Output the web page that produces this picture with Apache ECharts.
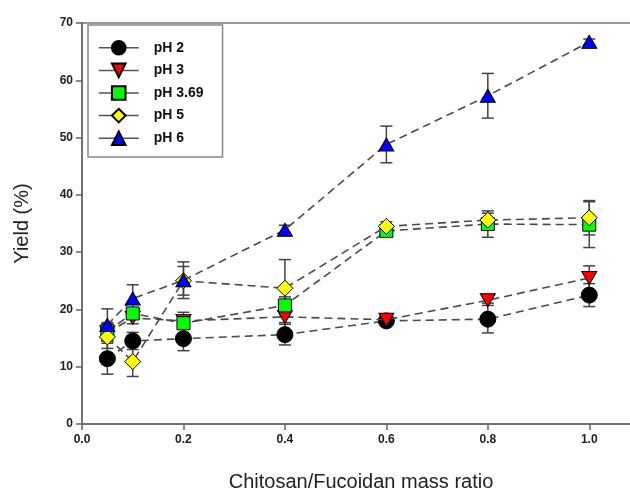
<!DOCTYPE html>
<html>
<head>
<meta charset="utf-8">
<script src="https://cdn.jsdelivr.net/npm/echarts@6/dist/echarts.min.js"></script>
<style>
html,body{margin:0;padding:0;background:#fff;}
#chart{width:630px;height:493px;}
</style>
</head>
<body>
<div id="chart"></div>
<script>
// Data
const ratios = [0.05, 0.1, 0.2, 0.4, 0.6, 0.8, 1.0];
const seriesNames = ['pH 2', 'pH 3', 'pH 3.69', 'pH 5', 'pH 6'];
const pH2 = [11.4, 14.5, 14.9, 15.6, 18.0, 18.3, 22.5];
const pH3 = [16.0, 18.5, 18.0, 18.7, 18.2, 21.6, 25.5];
const pH369 = [16.2, 19.3, 17.6, 20.7, 33.7, 34.9, 34.8];
const pH5 = [15.2, 10.9, 25.0, 23.7, 34.5, 35.6, 36.0];
const pH6 = [17.3, 21.9, 25.1, 33.9, 48.8, 57.3, 66.7];
const err2 = [2.7, 1.5, 2.1, 1.8, 0.5, 2.4, 2.0];
const err3 = [1.5, 1.0, 1.5, 1.0, 0.5, 0.5, 2.1];
const err369 = [1.5, 1.0, 1.0, 1.5, 0.8, 2.3, 4.0];
const err5 = [2.0, 2.6, 2.5, 5.0, 0.8, 1.2, 3.0];
const err6 = [2.8, 2.4, 3.2, 0.8, 3.2, 3.9, 0.5];
const yTicks = [0, 10, 20, 30, 40, 50, 60, 70];
const xTicks = [0.0, 0.2, 0.4, 0.6, 0.8, 1.0];

const allVals = [pH2, pH3, pH369, pH5, pH6];
const allErr = [err2, err3, err369, err5, err6];
const colors = ['#000000', '#ff0000', '#00ff00', '#ffff00', '#0000ff'];
const symbols = ['circle', 'path://M0,0 L10,0 L5,8.6 Z', 'rect', 'diamond', 'triangle'];
const sizes = [16, [15, 13], 13, 16, [15, 13]];

const errData = [];
allVals.forEach((vals, s) => {
  vals.forEach((v, i) => errData.push([ratios[i], v, allErr[s][i]]));
});

const chart = echarts.init(document.getElementById('chart'), null, {renderer: 'canvas'});
const font = 'Liberation Sans, Arial, sans-serif';

const series = allVals.map((vals, s) => ({
  name: seriesNames[s],
  type: 'line',
  data: vals.map((v, i) => [ratios[i], v]),
  symbol: symbols[s],
  symbolSize: sizes[s],
  showAllSymbol: true,
  z: 3 + s,
  lineStyle: {color: '#4a4a4a', width: 1.6, type: [8, 5]},
  itemStyle: {color: colors[s], borderColor: '#000', borderWidth: 1, opacity: 1},
  emphasis: {disabled: true},
  animation: false
}));

series.unshift({
  name: 'err',
  type: 'custom',
  z: 2,
  data: errData,
  renderItem: function (params, api) {
    const x = api.value(0), y = api.value(1), e = api.value(2);
    const top = api.coord([x, y + e]);
    const bot = api.coord([x, y - e]);
    const hw = 6;
    const style = {stroke: '#444', lineWidth: 1.5};
    return {
      type: 'group',
      children: [
        {type: 'line', shape: {x1: top[0], y1: top[1], x2: bot[0], y2: bot[1]}, style: style},
        {type: 'line', shape: {x1: top[0] - hw, y1: top[1], x2: top[0] + hw, y2: top[1]}, style: style},
        {type: 'line', shape: {x1: bot[0] - hw, y1: bot[1], x2: bot[0] + hw, y2: bot[1]}, style: style}
      ]
    };
  },
  animation: false,
  silent: true
});

chart.setOption({
  animation: false,
  backgroundColor: '#fff',
  textStyle: {fontFamily: font},
  grid: {
    left: 82, top: 23, width: 558, height: 401,
    outerBoundsMode: 'none',
    containLabel: false,
    show: true, borderColor: '#777', borderWidth: 1.5, backgroundColor: 'transparent'
  },
  legend: {
    data: seriesNames,
    orient: 'vertical',
    left: 88, top: 25,
    padding: [15, 19, 11, 10],
    itemGap: 7,
    itemWidth: 40,
    itemHeight: 17,
    backgroundColor: '#fff',
    borderColor: '#888',
    borderWidth: 1.5,
    borderRadius: 0,
    lineStyle: {type: 'solid', color: '#555', width: 1.5},
    textStyle: {fontFamily: font, fontWeight: 'bold', fontSize: 14, color: '#111', padding: [0, 0, 0, 10]}
  },
  xAxis: {
    type: 'value',
    min: 0, max: 1.1, interval: 0.2,
    name: 'Chitosan/Fucoidan mass ratio',
    nameLocation: 'middle',
    nameGap: 48,
    nameTextStyle: {fontFamily: font, fontSize: 20, color: '#222'},
    axisLine: {show: true, onZero: false, lineStyle: {color: '#666', width: 1.5}},
    axisTick: {show: true, inside: false, length: 6, lineStyle: {color: '#666', width: 1.5},
      customValues: xTicks},
    axisLabel: {
      margin: 10, fontFamily: font, fontWeight: 'bold', fontSize: 12, color: '#222',
      customValues: xTicks,
      formatter: v => v.toFixed(1)
    },
    splitLine: {show: false}
  },
  yAxis: {
    type: 'value',
    min: 0, max: 70, interval: 10,
    name: 'Yield (%)',
    nameLocation: 'middle',
    nameGap: 50,
    nameTextStyle: {fontFamily: font, fontSize: 20, color: '#222'},
    axisLine: {show: true, lineStyle: {color: '#666', width: 1.5}},
    axisTick: {show: true, inside: false, length: 6, lineStyle: {color: '#666', width: 1.5}},
    axisLabel: {margin: 9, fontFamily: font, fontWeight: 'bold', fontSize: 12, color: '#222',
      formatter: v => (yTicks.indexOf(v) >= 0 ? String(v) : '')},
    splitLine: {show: false}
  },
  series: series
});
</script>
</body>
</html>
